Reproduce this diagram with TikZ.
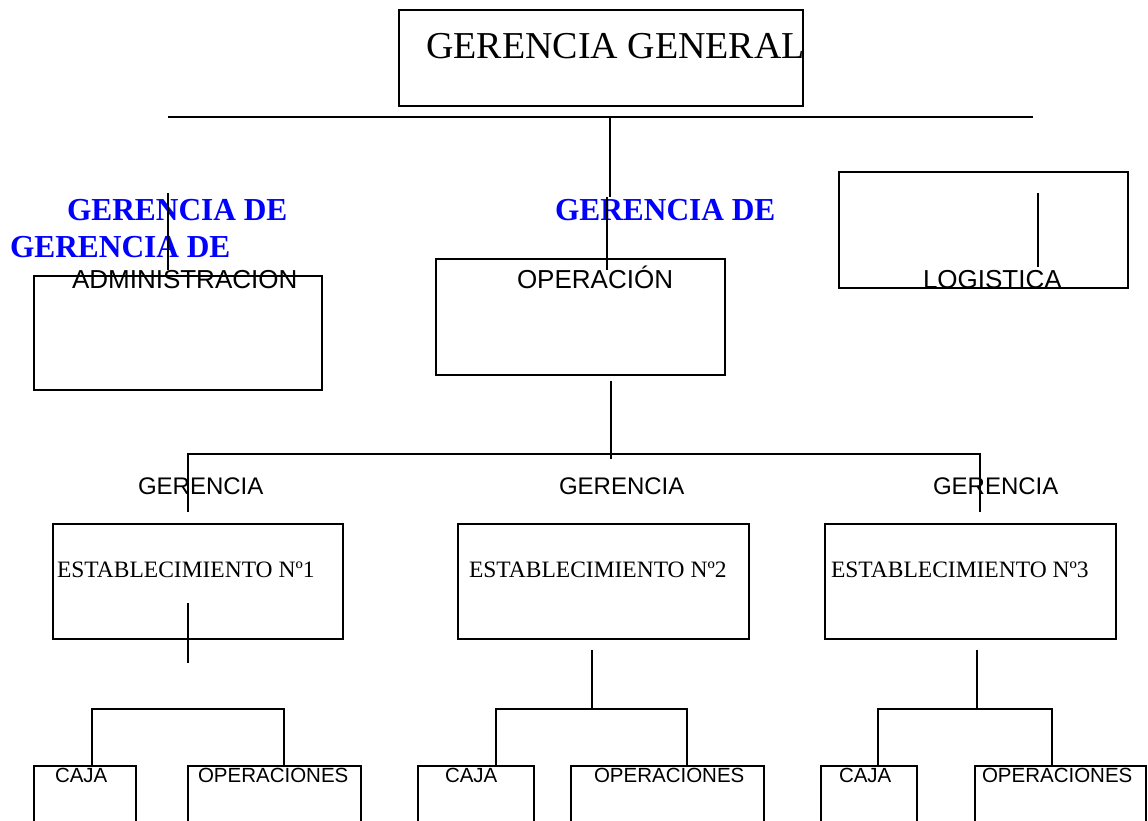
\documentclass[tikz,border=0pt]{standalone}
\usepackage{fontspec}
\setmainfont{Liberation Serif}
\newfontfamily\arialf{Liberation Sans}
\begin{document}
\begin{tikzpicture}[x=1pt,y=-1pt,line width=1.8pt,
  box/.style={draw,rectangle,inner sep=0pt,outer sep=0pt,line width=1.8pt},
  lbl/.style={inner sep=0pt,outer sep=0pt,anchor=base west},
  bigserif/.style={lbl,font=\fontsize{38}{40}\selectfont},
  bluehead/.style={lbl,text={rgb,255:red,0;green,0;blue,255},font=\fontsize{32}{34}\selectfont\bfseries},
  mgr/.style={lbl,font=\arialf\fontsize{26}{28}\selectfont},
  sub/.style={lbl,font=\arialf\fontsize{24}{26}\selectfont},
  est/.style={lbl,font=\fontsize{23.5}{25}\selectfont},
  unit/.style={lbl,font=\arialf\fontsize{20.5}{22}\selectfont}]
\useasboundingbox (0,0) rectangle (1148,821);
\fill[white] (0,0) rectangle (1148,821);

% main boxes
\node[box,minimum width=404pt,minimum height=96pt] (gg) at (601,58) {};
\node[box,minimum width=288pt,minimum height=114pt] (adm) at (178,333) {};
\node[box,minimum width=289pt,minimum height=116pt] (ope) at (580.5,317) {};
\node[box,minimum width=289pt,minimum height=116pt] (log) at (983.5,230) {};
\node[box,minimum width=290pt,minimum height=115pt] (e1) at (198,581.5) {};
\node[box,minimum width=291pt,minimum height=115pt] (e2) at (603.5,581.5) {};
\node[box,minimum width=291pt,minimum height=115pt] (e3) at (970.5,581.5) {};

% texts
\node[bigserif] (tgg) at (426,59) {GERENCIA GENERAL};
\node[bluehead,xscale=0.98] (b1) at (67,220) {GERENCIA DE};
\node[bluehead,xscale=0.98] (b2) at (10,257) {GERENCIA DE};
\node[bluehead,xscale=0.98] (b3) at (555,220) {GERENCIA DE};
\node[mgr] (tadm) at (72,288) {ADMINISTRACION};
\node[mgr] (tope) at (517,288) {OPERACIÓN};
\node[mgr] (tlog) at (923,288) {LOGISTICA};
\node[sub] (g1) at (138,494) {GERENCIA};
\node[sub] (g2) at (559,494) {GERENCIA};
\node[sub] (g3) at (933,494) {GERENCIA};
\node[est] (te1) at (57,577) {ESTABLECIMIENTO Nº1};
\node[est] (te2) at (469,577) {ESTABLECIMIENTO Nº2};
\node[est] (te3) at (831,577) {ESTABLECIMIENTO Nº3};
\node[unit] (c1) at (55,782) {CAJA};
\node[unit] (o1) at (198,782) {OPERACIONES};
\node[unit] (c2) at (445,782) {CAJA};
\node[unit] (o2) at (594,782) {OPERACIONES};
\node[unit] (c3) at (839,782) {CAJA};
\node[unit] (o3) at (982,782) {OPERACIONES};

% connector coordinates
\coordinate (hL) at (168,117); \coordinate (hR) at (1033,117);
\coordinate (vA) at (610,117); \coordinate (vB) at (610,197);
\coordinate (vC) at (607,197); \coordinate (vD) at (607,270);
\coordinate (lA) at (168,193); \coordinate (lB) at (168,270);
\coordinate (rA) at (1038,193); \coordinate (rB) at (1038,267);
\coordinate (oA) at (611,381); \coordinate (oB) at (611,459);
\coordinate (mL) at (188,454); \coordinate (mR) at (980,454);
\coordinate (mLd) at (188,512); \coordinate (mRd) at (980,512);
\coordinate (s1A) at (188,603); \coordinate (s1B) at (188,663);
\coordinate (s2A) at (592,650); \coordinate (s2B) at (592,709);
\coordinate (s3A) at (977,650); \coordinate (s3B) at (977,709);

\draw (hL) -- (hR);
\draw (vA) -- (vB);
\draw (vC) -- (vD);
\draw (lA) -- (lB);
\draw (rA) -- (rB);
\draw (oA) -- (oB);
\draw (mLd) -- (mL) -- (mR) -- (mRd);
\draw (s1A) -- (s1B);
\draw (s2A) -- (s2B);
\draw (s3A) -- (s3B);

% brackets
\coordinate (k1a) at (92,766); \coordinate (k1b) at (284,766);
\coordinate (k2a) at (496,766); \coordinate (k2b) at (687,766);
\coordinate (k3a) at (878,766); \coordinate (k3b) at (1052,766);
\draw (k1a) |- (284,709) -- (k1b);
\draw (k2a) |- (687,709) -- (k2b);
\draw (k3a) |- (1052,709) -- (k3b);

% open bottom boxes
\coordinate (bx1) at (34,821); \coordinate (bx2) at (136,821);
\coordinate (bx3) at (188,821); \coordinate (bx4) at (361,821);
\coordinate (bx5) at (418,821); \coordinate (bx6) at (534,821);
\coordinate (bx7) at (571,821); \coordinate (bx8) at (764,821);
\coordinate (bx9) at (821,821); \coordinate (bx10) at (917,821);
\coordinate (bx11) at (975,821); \coordinate (bx12) at (1146,821);
\draw (bx1) |- (136,766) -- (bx2);
\draw (bx3) |- (361,766) -- (bx4);
\draw (bx5) |- (534,766) -- (bx6);
\draw (bx7) |- (764,766) -- (bx8);
\draw (bx9) |- (917,766) -- (bx10);
\draw (bx11) |- (1146,766) -- (bx12);
\end{tikzpicture}
\end{document}
